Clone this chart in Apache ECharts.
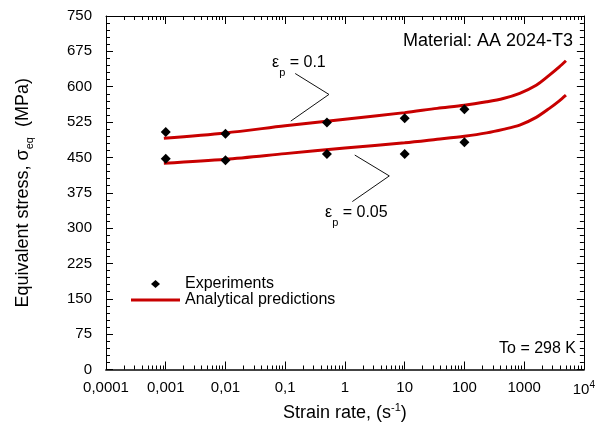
<!DOCTYPE html>
<html>
<head>
<meta charset="utf-8">
<script src="https://cdn.jsdelivr.net/npm/echarts@6/dist/echarts.min.js"></script>
<style>
html,body{margin:0;padding:0;background:#fff;}
#chart{width:598px;height:427px;}
</style>
</head>
<body>
<div id="chart"></div>
<script>
// ---- data ----
const strainRates = [0.001, 0.01, 0.5, 10, 100];
const expUpper = [504, 500, 524, 533, 552];   // eps_p = 0.1
const expLower = [447, 444, 457, 457, 482];   // eps_p = 0.05

const predRates = [0.00093, 0.01, 0.1, 1, 10, 35, 100, 236, 447, 842, 1592, 2648, 3878, 5012];
const predUpper = [490.5, 502, 517, 531, 545, 554, 560.5, 568, 575, 586, 603, 624.5, 642, 655];
const predLower = [437.5, 446, 458, 470, 481, 488.5, 495, 502, 509.5, 518.6, 535, 554, 570, 582];

// leader lines of the annotations (data coordinates)
const leaderUpperX = [0.147, 0.54, 0.124];
const leaderUpperY = [628, 583.6, 527];
const leaderLowerX = [1.46, 5.53, 1.33];
const leaderLowerY = [455, 410.7, 356.3];

const xTickLabels = ['0,0001', '0,001', '0,01', '0,1', '1', '10', '100', '1000', '10{sup|4}'];
const xMin = 0.0001, xMax = 10000;
const yMin = 0, yMax = 750, yStep = 75;
const minorMultipliers = [2, 3, 4, 5, 6, 7, 8, 9];

// ---- helpers ----
const zip = (a, b) => a.map((v, i) => [v, b[i]]);
const decades = [];
for (let d = Math.log10(xMin); d < Math.log10(xMax); d++) decades.push(d);
const minorLogTicks = [];
decades.forEach(d => minorMultipliers.forEach(m => minorLogTicks.push(d + Math.log10(m))));

const FONT = "'Liberation Sans', Arial, sans-serif";
const BLACK = '#000';
const RED = '#c80000';

const chart = echarts.init(document.getElementById('chart'), null, {renderer: 'canvas'});

const baseTick = {inside: true, length: 8, lineStyle: {color: BLACK, width: 1}};
const minorTickAxis = (pos) => ({
  type: 'value', min: Math.log10(xMin), max: Math.log10(xMax), position: pos,
  axisLine: {show: false, onZero: false}, axisLabel: {show: false}, splitLine: {show: false},
  axisTick: {show: true, inside: true, length: 4, customValues: minorLogTicks,
             lineStyle: {color: BLACK, width: 1}}
});

chart.setOption({
  animation: false,
  backgroundColor: '#fff',
  textStyle: {fontFamily: FONT},
  grid: {left: 106, right: 10, top: 16, bottom: 57, containLabel: false},
  legend: {
    data: [
      {name: 'Experiments', icon: 'path://M0,0 M49,9 M24.5,0.5 L29,4.5 L24.5,8.5 L20,4.5 Z'},
      {name: 'Analytical predictions', icon: 'path://M0,0 M49,9 M0,3 L49,3 L49,6 L0,6 Z'}
    ],
    orient: 'vertical', left: 126, top: 271, itemGap: 0,
    itemWidth: 49, itemHeight: 9, selectedMode: false, symbolKeepAspect: false,
    textStyle: {fontFamily: FONT, fontSize: 16, color: BLACK}
  },
  xAxis: [
    {
      type: 'log', logBase: 10, min: xMin, max: xMax, interval: 1, position: 'bottom',
      axisLine: {show: true, onZero: false, lineStyle: {color: '#444', width: 2}},
      axisTick: baseTick,
      splitLine: {show: false},
      axisLabel: {
        fontFamily: FONT, fontSize: 15, color: BLACK, margin: 11, showMaxLabel: true,
        formatter: v => xTickLabels[Math.round(Math.log10(v) - Math.log10(xMin))],
        rich: {sup: {fontSize: 10, fontFamily: FONT, color: BLACK, padding: [0, 0, 8, 0]}}
      },
      name: 'Strain rate, (s{sup|-1})',
      nameLocation: 'middle', nameGap: 33,
      nameTextStyle: {fontFamily: FONT, fontSize: 18, color: BLACK,
        rich: {sup: {fontSize: 11, fontFamily: FONT, color: BLACK, padding: [0, 0, 10, 0]}}}
    },
    minorTickAxis('bottom'),
    {
      type: 'log', logBase: 10, min: xMin, max: xMax, interval: 1, position: 'top',
      axisLine: {show: true, onZero: false, lineStyle: {color: BLACK, width: 1}},
      axisTick: baseTick, axisLabel: {show: false}, splitLine: {show: false}
    },
    minorTickAxis('top')
  ],
  yAxis: [
    {
      type: 'value', min: yMin, max: yMax, interval: yStep, position: 'left',
      axisLine: {show: true, onZero: false, lineStyle: {color: BLACK, width: 1}},
      axisTick: {inside: true, length: 7, lineStyle: {color: BLACK}},
      minorTick: {show: true, splitNumber: 5, length: 4, lineStyle: {color: BLACK}},
      splitLine: {show: false},
      axisLabel: {fontFamily: FONT, fontSize: 15, color: BLACK, margin: 14},
      name: 'Equivalent stress, σ{sub|eq}  (MPa)',
      nameLocation: 'middle', nameGap: 71,
      nameTextStyle: {fontFamily: FONT, fontSize: 18, color: BLACK,
        rich: {sub: {fontSize: 11, fontFamily: FONT, color: BLACK, padding: [12, 0, 0, 0]}}}
    },
    {
      type: 'value', min: yMin, max: yMax, interval: yStep, position: 'right',
      axisLine: {show: true, onZero: false, lineStyle: {color: BLACK, width: 1}},
      axisTick: {inside: true, length: 7, lineStyle: {color: BLACK}},
      minorTick: {show: true, splitNumber: 5, length: 4, lineStyle: {color: BLACK}},
      splitLine: {show: false}, axisLabel: {show: false}
    }
  ],
  graphic: [
    {type: 'text', x: 573, y: 41, silent: true,
     style: {text: 'Material: AA 2024-T3', fontFamily: FONT, fontSize: 18, fill: BLACK,
             align: 'right', verticalAlign: 'middle'}},
    {type: 'text', x: 576, y: 349, silent: true,
     style: {text: 'To = 298 K', fontFamily: FONT, fontSize: 16, fill: BLACK,
             align: 'right', verticalAlign: 'middle'}},
    {type: 'text', x: 272, y: 63, silent: true,
     style: {text: '{e|ε}{s|p}{n| = 0.1}', fontFamily: FONT, fontSize: 16, fill: BLACK,
             align: 'left', verticalAlign: 'middle',
             rich: {e: {fontSize: 16, fontFamily: FONT}, s: {fontSize: 11, fontFamily: FONT, padding: [20, 0, 0, 0]},
                    n: {fontSize: 16, fontFamily: FONT}}}},
    {type: 'text', x: 325, y: 213, silent: true,
     style: {text: '{e|ε}{s|p}{n| = 0.05}', fontFamily: FONT, fontSize: 16, fill: BLACK,
             align: 'left', verticalAlign: 'middle',
             rich: {e: {fontSize: 16, fontFamily: FONT}, s: {fontSize: 11, fontFamily: FONT, padding: [20, 0, 0, 0]},
                    n: {fontSize: 16, fontFamily: FONT}}}}
  ],
  series: [
    {name: 'Analytical predictions', type: 'line', data: zip(predRates, predUpper), smooth: 0.3,
     symbol: 'none', lineStyle: {color: RED, width: 3}, itemStyle: {color: RED}, z: 2},
    {name: 'Analytical predictions', type: 'line', data: zip(predRates, predLower), smooth: 0.3,
     symbol: 'none', lineStyle: {color: RED, width: 3}, itemStyle: {color: RED}, z: 2},
    {name: 'Experiments', type: 'scatter', data: zip(strainRates, expUpper),
     symbol: 'diamond', symbolSize: 10, itemStyle: {color: BLACK, opacity: 1}, z: 3},
    {name: 'Experiments', type: 'scatter', data: zip(strainRates, expLower),
     symbol: 'diamond', symbolSize: 10, itemStyle: {color: BLACK, opacity: 1}, z: 3},
    {name: 'leader1', type: 'line', data: zip(leaderUpperX, leaderUpperY), symbol: 'none',
     silent: true, lineStyle: {color: '#111', width: 1}, z: 1},
    {name: 'leader2', type: 'line', data: zip(leaderLowerX, leaderLowerY), symbol: 'none',
     silent: true, lineStyle: {color: '#111', width: 1}, z: 1}
  ]
});
</script>
</body>
</html>
